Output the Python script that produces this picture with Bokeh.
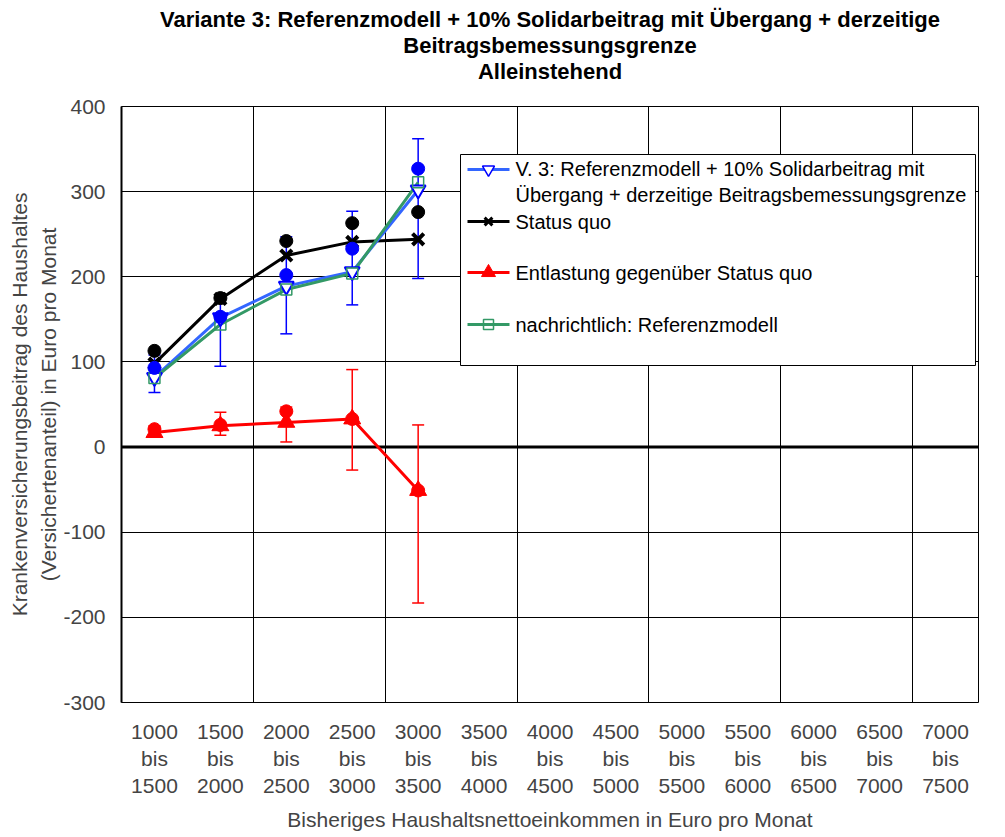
from bokeh.plotting import figure
from bokeh.models import (ColumnDataSource, Whisker, TeeHead, Span, FixedTicker,
                          CustomJSTickFormatter, Range1d, Title)
from bokeh.core.properties import value
from bokeh.embed import file_html
from bokeh.resources import INLINE

# ---------------- data ----------------
categories = ["1000\nbis\n1500", "1500\nbis\n2000", "2000\nbis\n2500", "2500\nbis\n3000",
              "3000\nbis\n3500", "3500\nbis\n4000", "4000\nbis\n4500", "4500\nbis\n5000",
              "5000\nbis\n5500", "5500\nbis\n6000", "6000\nbis\n6500", "6500\nbis\n7000",
              "7000\nbis\n7500"]
y_ticks = [-300, -200, -100, 0, 100, 200, 300, 400]

# series (first five income classes)
v3 = [82, 152, 189, 206, 302]            # V. 3: Referenzmodell + 10% Solidarbeitrag ...
status_quo = [98, 174, 225, 241, 244]    # Status quo
entlastung = [17, 25, 29, 33, -51]       # Entlastung gegenüber Status quo
referenz = [81, 144, 185, 204, 311]      # nachrichtlich: Referenzmodell

# single points without legend entry
v3_points = [93, 153, 202, 233, 327]
sq_points = [113, 175, 242, 263, 276]
ent_points = [21, 26, 42, 33, -51]

# error bars
v3_upper = [108, 175, 247, 277, 362]
v3_lower = [64, 95, 133, 167, 198]
ent_upper = [25, 41, 47, 91, 26]
ent_lower = [12, 14, 6, -27, -183]

legend_labels = ["V. 3: Referenzmodell + 10% Solidarbeitrag mit\nÜbergang + derzeitige Beitragsbemessungsgrenze",
                 "Status quo",
                 "Entlastung gegenüber Status quo",
                 "nachrichtlich: Referenzmodell"]

title_lines = ["Variante 3: Referenzmodell + 10% Solidarbeitrag mit Übergang + derzeitige",
               "Beitragsbemessungsgrenze",
               "Alleinstehend"]

# ---------------- styling ----------------
FONT = "Liberation Sans"
BLUE_LINE = "#3366FF"
BLUE = "#0000FF"
GREEN = "#339966"
RED = "#FF0000"
BLACK = "#000000"

N = len(categories)
xs = [categories.index(c) + 0.5 for c in categories[:len(v3)]]

# layout (page pixels)
FRAME_L, FRAME_T, FRAME_W, FRAME_H = 121, 107, 857, 596

p = figure(frame_width=FRAME_W, frame_height=FRAME_H, title=None,
           x_range=Range1d(0, N), y_range=Range1d(y_ticks[0], y_ticks[-1]),
           output_backend="svg", toolbar_location=None,
           min_border_left=121, min_border_right=17,
           min_border_top=106, min_border_bottom=126,
           background_fill_color="white", border_fill_color="white",
           outline_line_color=BLACK, outline_line_width=1)

# spacer between frame and title block
p.add_layout(Title(text=" ", text_font_size="1px", standoff=19.5), "above")
# title lines, added from the frame outwards
for line, so in zip(reversed(title_lines), [0, -2, 0]):
    p.add_layout(Title(text=line, align="center", text_font=FONT, text_font_size="22px",
                       text_font_style="bold", text_color=BLACK, standoff=so), "above")

# y axis
p.yaxis.ticker = FixedTicker(ticks=y_ticks)
p.yaxis.formatter = CustomJSTickFormatter(code="return tick.toFixed(0);")
p.yaxis.major_label_text_font = FONT
p.yaxis.major_label_text_font_size = "21px"
p.yaxis.major_label_standoff = 16
p.yaxis.major_tick_in = 0
p.yaxis.major_tick_out = 0
p.yaxis.minor_tick_in = 0
p.yaxis.minor_tick_out = 0
p.yaxis.axis_line_width = 2
p.yaxis.axis_line_color = BLACK
p.yaxis.axis_label = "Krankenversicherungsbeitrag des Haushaltes\n(Versichertenanteil) in Euro pro Monat"
p.yaxis.axis_label_text_font = FONT
p.yaxis.axis_label_text_font_size = "21px"
p.yaxis.axis_label_text_font_style = "normal"
p.yaxis.axis_label_text_line_height = 1.3
p.yaxis.axis_label_standoff = 0

# x axis
p.xaxis.ticker = FixedTicker(ticks=[i + 0.5 for i in range(N)])
p.xaxis.formatter = CustomJSTickFormatter(args=dict(labels=categories),
                                          code="return labels[Math.floor(tick)];")
p.xaxis.major_label_text_font = FONT
p.xaxis.major_label_text_font_size = "21px"
p.xaxis.major_label_text_line_height = 1.18
p.xaxis.major_label_standoff = 17
p.xaxis.major_tick_in = 0
p.xaxis.major_tick_out = 0
p.xaxis.minor_tick_in = 0
p.xaxis.minor_tick_out = 0
p.xaxis.axis_line_color = None
p.xaxis.axis_label = "Bisheriges Haushaltsnettoeinkommen in Euro pro Monat"
p.xaxis.axis_label_text_font = FONT
p.xaxis.axis_label_text_font_size = "21px"
p.xaxis.axis_label_text_font_style = "normal"
p.xaxis.axis_label_standoff = 8

# grids
p.xgrid.ticker = FixedTicker(ticks=list(range(2, N, 2)))
p.xgrid.grid_line_color = BLACK
p.xgrid.grid_line_width = 1
p.ygrid.grid_line_color = BLACK
p.ygrid.grid_line_width = 1

zero = Span(location=0, dimension="width", line_color=BLACK, line_width=3, level="underlay")
p.add_layout(zero)

# error bars
src_b = ColumnDataSource(dict(x=xs, upper=v3_upper, lower=v3_lower))
p.add_layout(Whisker(source=src_b, base="x", upper="upper", lower="lower",
                     line_color=BLUE, line_width=1.5,
                     upper_head=TeeHead(size=12, line_color=BLUE, line_width=1.5),
                     lower_head=TeeHead(size=12, line_color=BLUE, line_width=1.5)))
src_r = ColumnDataSource(dict(x=xs, upper=ent_upper, lower=ent_lower))
p.add_layout(Whisker(source=src_r, base="x", upper="upper", lower="lower",
                     line_color=RED, line_width=1.5,
                     upper_head=TeeHead(size=12, line_color=RED, line_width=1.5),
                     lower_head=TeeHead(size=12, line_color=RED, line_width=1.5)))

# lines
p.line(xs, status_quo, line_color=BLACK, line_width=3)
p.scatter(xs, status_quo, marker="x", size=16, line_color=BLACK, line_width=4)
p.line(xs, v3, line_color=BLUE_LINE, line_width=3)
p.line(xs, referenz, line_color=GREEN, line_width=3)
p.scatter(xs, v3, marker="inverted_triangle", size=15, line_color=BLUE,
          fill_color="white", line_width=2)
p.scatter(xs, referenz, marker="square", size=11, line_color=GREEN,
          fill_color=None, line_width=1.5)

# single points
p.scatter(xs, sq_points, marker="circle", size=13, color=BLACK)
p.scatter(xs, v3_points, marker="circle", size=13, color=BLUE)
p.scatter(xs, ent_points, marker="circle", size=13, color=RED)

p.line(xs, entlastung, line_color=RED, line_width=3)
p.scatter(xs, entlastung, marker="triangle", size=17, color=RED)


# ---------------- legend (drawn by hand) ----------------
def fx(px):
    return (px - FRAME_L) * N / FRAME_W


def fy(py):
    return y_ticks[-1] - (py - FRAME_T) * (y_ticks[-1] - y_ticks[0]) / FRAME_H


p.quad(left=[fx(460)], right=[fx(975)], top=[fy(155)], bottom=[fy(366)],
       fill_color="white", line_color=BLACK, line_width=1)

legend_style = [
    dict(line=BLUE_LINE, marker="inverted_triangle", mline=BLUE, mfill="white", size=12, lw=1.5),
    dict(line=BLACK, marker="x", mline=BLACK, mfill=None, size=11, lw=3),
    dict(line=RED, marker="triangle", mline=RED, mfill=RED, size=14, lw=1),
    dict(line=GREEN, marker="square", mline=GREEN, mfill=None, size=10, lw=1.5),
]
glyph_rows = [170, 222, 273, 325]
text_rows = [182.5, 222, 273, 325]
for lab, st, gy, ty in zip(legend_labels, legend_style, glyph_rows, text_rows):
    p.line([fx(467), fx(509)], [fy(gy), fy(gy)], line_color=st["line"], line_width=3)
    p.scatter([fx(488)], [fy(gy)], marker=st["marker"], size=st["size"],
              line_color=st["mline"], fill_color=st["mfill"], line_width=st["lw"])
    p.text(x=[fx(515)], y=[fy(ty)], text=[lab], text_font=value(FONT),
           text_font_size="20px", text_baseline="middle", text_align="left",
           text_line_height=1.2, text_color=BLACK)

open("out.html", "w").write(file_html(p, INLINE))
